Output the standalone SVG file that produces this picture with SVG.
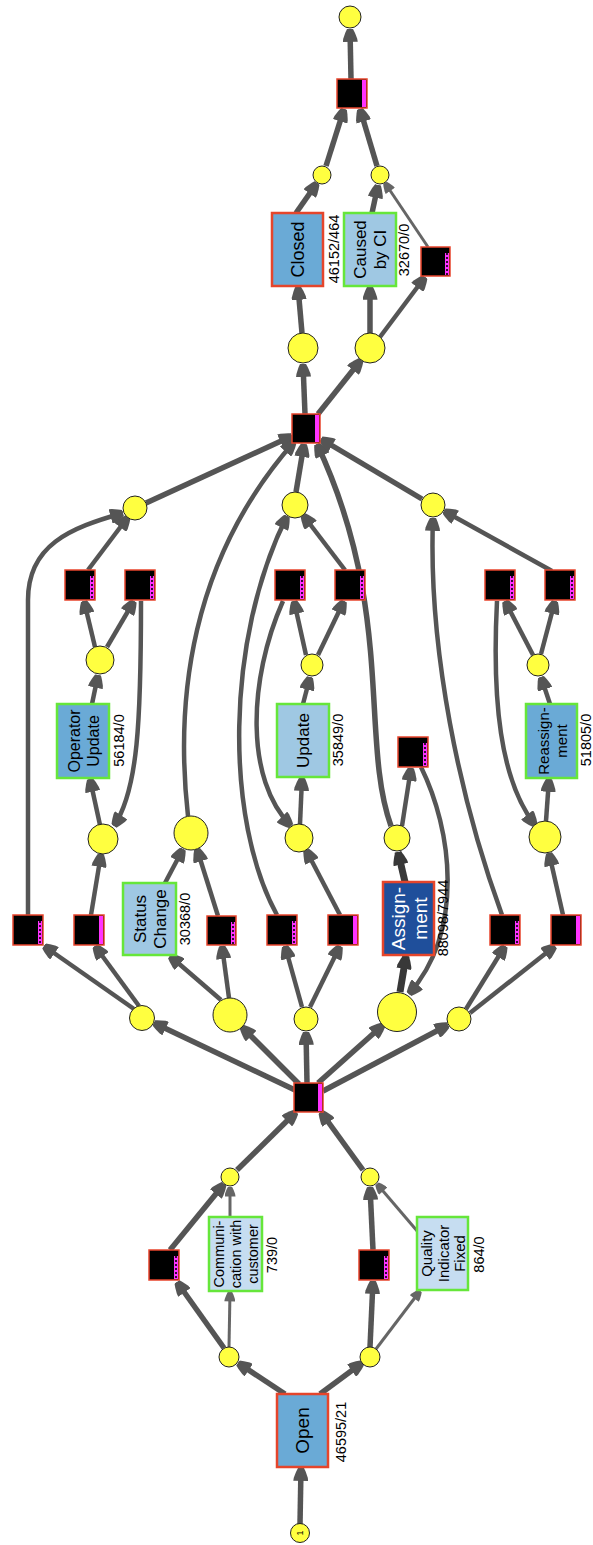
<svg xmlns="http://www.w3.org/2000/svg" width="593" height="1545" viewBox="0 0 593 1545">
<style>
  .e{fill:none;stroke:#555;stroke-width:5.5}
  .m{fill:none;stroke:#555;stroke-width:4.5}
  .t{fill:none;stroke:#666;stroke-width:3}
  .dk{fill:none;stroke:#383838;stroke-width:7}
  .e,.m{marker-end:url(#ah)}
  .t{marker-end:url(#as)}
  .dk{marker-end:url(#ad)}
  .pl{fill:#ffff40;stroke:#222;stroke-width:1}
  .sq{fill:#000;stroke:#e8442c;stroke-width:1.5}
  .mg{fill:#ff33ff}
  .dash{stroke:#000;stroke-width:1.6;stroke-dasharray:2 2}
  .box{stroke-width:2.5}
  .red{stroke:#e5452b}
  .grn{stroke:#66e63a}
  .b1{fill:#6aaad6}
  .b2{fill:#9fc8e3}
  .b3{fill:#c6ddf1}
  .b4{fill:#1f4f9b}
  text{font-family:"Liberation Sans",Arial,sans-serif;text-anchor:middle;dominant-baseline:central}
  .lbl{font-size:16px;fill:#000}
  .cnt{font-size:14.5px;fill:#000}
</style>
<defs>
  <marker id="ah" viewBox="0 0 12 14" refX="12" refY="7" markerWidth="13" markerHeight="15" orient="auto" markerUnits="userSpaceOnUse">
    <path d="M0,0 L3,0.5 Q9,2.5 12,4.2 L12,9.8 Q9,11.5 3,13.5 L0,14 Z" fill="#555"/>
  </marker>
  <marker id="as" viewBox="0 0 12 14" refX="12" refY="7" markerWidth="10" markerHeight="11" orient="auto" markerUnits="userSpaceOnUse">
    <path d="M0,0 L3,0.5 Q9,2.5 12,4.2 L12,9.8 Q9,11.5 3,13.5 L0,14 Z" fill="#666"/>
  </marker>
  <marker id="ad" viewBox="0 0 12 14" refX="12" refY="7" markerWidth="13" markerHeight="15" orient="auto" markerUnits="userSpaceOnUse">
    <path d="M0,0 L3,0.5 Q9,2.5 12,4.2 L12,9.8 Q9,11.5 3,13.5 L0,14 Z" fill="#383838"/>
  </marker>
</defs>

<g id="connectors">
  <!-- start and Open -->
  <path class="e" d="M300,1524 L301,1468"/>
  <path class="e" d="M285,1394 L238,1363"/>
  <path class="e" d="M320,1394 L362,1363"/>
  <!-- left branch -->
  <path class="e" d="M224,1348 L177,1282"/>
  <path class="t" d="M229,1347 L230,1292"/>
  <path class="e" d="M170,1250 L224,1184"/>
  <path class="t" d="M230,1217 L230,1187"/>
  <!-- right branch -->
  <path class="e" d="M370,1347 L373,1281"/>
  <path class="t" d="M376,1349 L420,1291"/>
  <path class="e" d="M373,1250 L370,1187"/>
  <path class="t" d="M418,1232 L377,1184"/>
  <!-- into hub -->
  <path class="e" d="M237,1170 L296,1112"/>
  <path class="e" d="M363,1170 L321,1112"/>
  <!-- hub outputs -->
  <path class="e" d="M295,1090 L154,1023"/>
  <path class="e" d="M299,1084 L242,1027"/>
  <path class="e" d="M307,1083 L306,1032"/>
  <path class="e" d="M318,1083 L383,1025"/>
  <path class="e" d="M323,1091 L448,1025"/>
  <!-- Operator Update branch -->
  <path class="m" d="M134,1009 L44,946"/>
  <path class="m" d="M139,1006 L95,946"/>
  <path class="m" d="M28,915 L28,600 C28,545 70,528 123,513"/>
  <path class="m" d="M91,915 L101,854"/>
  <path class="m" d="M100,825 L90,779"/>
  <path class="m" d="M92,704 L98,675"/>
  <path class="m" d="M95,647 L84,601"/>
  <path class="m" d="M107,647 L134,601"/>
  <path class="m" d="M88,570 L128,517"/>
  <path class="m" d="M141,601 C141,720 138,790 114,826"/>
  <path class="e" d="M146,503 L292,436"/>
  <!-- Status Change branch -->
  <path class="m" d="M221,1000 L170,956"/>
  <path class="m" d="M229,998 L222,946"/>
  <path class="m" d="M165,883 L183,849"/>
  <path class="m" d="M218,916 L197,849"/>
  <path class="m" d="M188,816 C175,700 190,560 294,442"/>
  <!-- Update branch -->
  <path class="m" d="M302,1007 L285,946"/>
  <path class="m" d="M310,1007 L340,946"/>
  <path class="m" d="M340,915 L306,850"/>
  <path class="m" d="M300,824 L302,778"/>
  <path class="m" d="M303,704 L310,677"/>
  <path class="m" d="M306,655 L294,601"/>
  <path class="m" d="M318,655 L344,601"/>
  <path class="m" d="M345,570 L303,515"/>
  <path class="m" d="M283,601 C248,680 245,780 291,826"/>
  <path class="m" d="M277,915 C225,820 225,640 287,516"/>
  <path class="e" d="M296,492 L304,444"/>
  <!-- Assignment branch -->
  <path class="dk" d="M400,992 L406,956"/>
  <path class="dk" d="M405,882 L398,852"/>
  <path class="m" d="M402,826 L411,768"/>
  <path class="m" d="M421,767 C452,830 465,930 409,994"/>
  <path class="e" d="M391,826 C360,740 395,610 317,444"/>
  <!-- Reassignment branch -->
  <path class="m" d="M466,1009 L505,946"/>
  <path class="m" d="M470,1013 L555,946"/>
  <path class="m" d="M563,915 L549,853"/>
  <path class="m" d="M546,821 L549,779"/>
  <path class="m" d="M550,704 L541,677"/>
  <path class="m" d="M533,655 L505,601"/>
  <path class="m" d="M541,654 L555,601"/>
  <path class="m" d="M552,571 L444,511"/>
  <path class="m" d="M497,601 C492,700 500,780 535,825"/>
  <path class="m" d="M502,915 C460,800 428,650 433,518"/>
  <path class="e" d="M422,499 L321,439"/>
  <!-- closing part -->
  <path class="e" d="M305,414 L303,364"/>
  <path class="e" d="M318,414 L361,360"/>
  <path class="e" d="M302,333 L298,287"/>
  <path class="e" d="M370,333 L370,287"/>
  <path class="m" d="M380,337 L425,277"/>
  <path class="e" d="M296,213 L317,183"/>
  <path class="e" d="M372,213 L378,185"/>
  <path class="t" d="M428,247 L385,183"/>
  <path class="e" d="M326,166 L344,109"/>
  <path class="e" d="M377,166 L360,109"/>
  <path class="e" d="M351,79 L350,29"/>
</g>

<!-- places -->
<g id="p_start"><circle class="pl" cx="300" cy="1533" r="9.5"/><text transform="translate(300,1533) rotate(-90)" style="font-size:9px">1</text></g>
<g id="p_l1"><circle class="pl" cx="229" cy="1357" r="10"/></g>
<g id="p_r1"><circle class="pl" cx="370" cy="1357" r="10"/></g>
<g id="p_l2"><circle class="pl" cx="230" cy="1177" r="9"/></g>
<g id="p_r2"><circle class="pl" cx="370" cy="1177" r="9"/></g>
<g id="p_a"><circle class="pl" cx="142" cy="1018" r="12.5"/></g>
<g id="p_b"><circle class="pl" cx="230" cy="1015" r="17"/></g>
<g id="p_c"><circle class="pl" cx="306" cy="1019" r="12"/></g>
<g id="p_d"><circle class="pl" cx="397" cy="1012" r="19.5"/></g>
<g id="p_e"><circle class="pl" cx="459" cy="1019" r="12"/></g>
<g id="p_ou_in"><circle class="pl" cx="103" cy="839" r="15"/></g>
<g id="p_ou_out"><circle class="pl" cx="100" cy="660" r="14"/></g>
<g id="p_end_a"><circle class="pl" cx="135" cy="508" r="12"/></g>
<g id="p_sc"><circle class="pl" cx="191" cy="833" r="17"/></g>
<g id="p_u_in"><circle class="pl" cx="299" cy="838" r="14"/></g>
<g id="p_u_out"><circle class="pl" cx="312" cy="665" r="11"/></g>
<g id="p_end_c"><circle class="pl" cx="295" cy="505" r="13"/></g>
<g id="p_as_out"><circle class="pl" cx="397" cy="838" r="13"/></g>
<g id="p_r_in"><circle class="pl" cx="545" cy="837" r="16"/></g>
<g id="p_r_out"><circle class="pl" cx="538" cy="665" r="11"/></g>
<g id="p_end_e"><circle class="pl" cx="433" cy="505" r="12"/></g>
<g id="p_closed_in"><circle class="pl" cx="303" cy="348" r="15"/></g>
<g id="p_caused_in"><circle class="pl" cx="370" cy="348" r="15"/></g>
<g id="p_closed_out"><circle class="pl" cx="322" cy="175" r="9"/></g>
<g id="p_caused_out"><circle class="pl" cx="380" cy="175" r="9"/></g>
<g id="p_end"><circle class="pl" cx="350" cy="17" r="11"/></g>

<!-- silent transitions: solid strip -->
<g id="t_hub"><rect class="sq" x="294" y="1083" width="29" height="29"/><rect class="mg" x="318" y="1084" width="4" height="27"/></g>
<g id="t_join"><rect class="sq" x="292" y="414" width="28" height="29"/><rect class="mg" x="315" y="415" width="4" height="27"/></g>
<g id="t_end"><rect class="sq" x="337" y="79" width="30" height="29"/><rect class="mg" x="362" y="80" width="4" height="27"/></g>
<g id="t_ou_enter"><rect class="sq" x="74" y="915" width="30" height="30"/><rect class="mg" x="99" y="916" width="4" height="28"/></g>
<g id="t_u_enter"><rect class="sq" x="328" y="915" width="30" height="30"/><rect class="mg" x="353" y="916" width="4" height="28"/></g>
<g id="t_r_enter"><rect class="sq" x="551" y="915" width="30" height="30"/><rect class="mg" x="576" y="916" width="4" height="28"/></g>
<!-- silent transitions: dotted strip -->
<g id="t_skip_comm"><rect class="sq" x="149" y="1250" width="30" height="30"/><rect class="mg" x="174" y="1256" width="4" height="23"/><line class="dash" x1="176" y1="1256" x2="176" y2="1279"/></g>
<g id="t_skip_qual"><rect class="sq" x="359" y="1250" width="30" height="30"/><rect class="mg" x="384" y="1256" width="4" height="23"/><line class="dash" x1="386" y1="1256" x2="386" y2="1279"/></g>
<g id="t_skip_ou"><rect class="sq" x="13" y="915" width="30" height="30"/><rect class="mg" x="38" y="921" width="4" height="23"/><line class="dash" x1="40" y1="921" x2="40" y2="944"/></g>
<g id="t_skip_sc"><rect class="sq" x="207" y="916" width="29" height="29"/><rect class="mg" x="231" y="922" width="4" height="22"/><line class="dash" x1="233" y1="922" x2="233" y2="944"/></g>
<g id="t_skip_u"><rect class="sq" x="267" y="915" width="30" height="30"/><rect class="mg" x="292" y="921" width="4" height="23"/><line class="dash" x1="294" y1="921" x2="294" y2="944"/></g>
<g id="t_skip_r"><rect class="sq" x="490" y="915" width="30" height="30"/><rect class="mg" x="515" y="921" width="4" height="23"/><line class="dash" x1="517" y1="921" x2="517" y2="944"/></g>
<g id="t_as_redo"><rect class="sq" x="398" y="737" width="30" height="30"/><rect class="mg" x="423" y="743" width="4" height="23"/><line class="dash" x1="425" y1="743" x2="425" y2="766"/></g>
<g id="t_ou_exit"><rect class="sq" x="65" y="570" width="30" height="30"/><rect class="mg" x="90" y="576" width="4" height="23"/><line class="dash" x1="92" y1="576" x2="92" y2="599"/></g>
<g id="t_ou_redo"><rect class="sq" x="125" y="570" width="30" height="30"/><rect class="mg" x="150" y="576" width="4" height="23"/><line class="dash" x1="152" y1="576" x2="152" y2="599"/></g>
<g id="t_u_redo"><rect class="sq" x="275" y="570" width="30" height="30"/><rect class="mg" x="300" y="576" width="4" height="23"/><line class="dash" x1="302" y1="576" x2="302" y2="599"/></g>
<g id="t_u_exit"><rect class="sq" x="335" y="570" width="30" height="30"/><rect class="mg" x="360" y="576" width="4" height="23"/><line class="dash" x1="362" y1="576" x2="362" y2="599"/></g>
<g id="t_r_redo"><rect class="sq" x="485" y="570" width="30" height="30"/><rect class="mg" x="510" y="576" width="4" height="23"/><line class="dash" x1="512" y1="576" x2="512" y2="599"/></g>
<g id="t_r_exit"><rect class="sq" x="545" y="570" width="30" height="30"/><rect class="mg" x="570" y="576" width="4" height="23"/><line class="dash" x1="572" y1="576" x2="572" y2="599"/></g>
<g id="t_skip_ci"><rect class="sq" x="421" y="247" width="29" height="29"/><rect class="mg" x="445" y="253" width="4" height="22"/><line class="dash" x1="447" y1="253" x2="447" y2="275"/></g>

<!-- activities -->
<g id="a_open">
  <rect class="box b1 red" x="277" y="1394" width="51" height="73"/>
  <text class="lbl" transform="translate(302.5,1430.5) rotate(-90)" style="font-size:19px">Open</text>
  <text class="cnt" transform="translate(341,1432) rotate(-90)">46595/21</text>
</g>
<g id="a_comm">
  <rect class="box b3 grn" x="209" y="1217" width="53" height="74"/>
  <text class="lbl" transform="translate(235.5,1254) rotate(-90)" style="font-size:14.5px"><tspan x="0" dy="-17">Communi-</tspan><tspan x="0" dy="17">cation with</tspan><tspan x="0" dy="17">customer</tspan></text>
  <text class="cnt" transform="translate(272,1255) rotate(-90)">739/0</text>
</g>
<g id="a_quality">
  <rect class="box b3 grn" x="417" y="1217" width="51" height="73"/>
  <text class="lbl" transform="translate(442.5,1253.5) rotate(-90)" style="font-size:15px"><tspan x="0" dy="-16.5">Quality</tspan><tspan x="0" dy="16.5">Indicator</tspan><tspan x="0" dy="16.5">Fixed</tspan></text>
  <text class="cnt" transform="translate(478.5,1254.5) rotate(-90)">864/0</text>
</g>
<g id="a_status">
  <rect class="box b2 grn" x="123" y="883" width="53" height="72"/>
  <text class="lbl" transform="translate(149.5,919) rotate(-90)" style="font-size:17px"><tspan x="0" dy="-10">Status</tspan><tspan x="0" dy="20">Change</tspan></text>
  <text class="cnt" transform="translate(185,919) rotate(-90)">30368/0</text>
</g>
<g id="a_assignment">
  <rect class="box b4 red" x="383" y="882" width="51" height="73"/>
  <text class="lbl" transform="translate(408.5,918.5) rotate(-90)" style="font-size:19px;fill:#fff"><tspan x="0" dy="-11">Assign-</tspan><tspan x="0" dy="22">ment</tspan></text>
  <text class="cnt" transform="translate(443,918) rotate(-90)">88098/7944</text>
</g>
<g id="a_opupdate">
  <rect class="box b1 grn" x="57" y="704" width="52" height="74"/>
  <text class="lbl" transform="translate(83,741) rotate(-90)" style="font-size:16px"><tspan x="0" dy="-9.5">Operator</tspan><tspan x="0" dy="19">Update</tspan></text>
  <text class="cnt" transform="translate(118.5,740.5) rotate(-90)">56184/0</text>
</g>
<g id="a_update">
  <rect class="box b2 grn" x="277" y="704" width="52" height="73"/>
  <text class="lbl" transform="translate(303,740.5) rotate(-90)" style="font-size:17px">Update</text>
  <text class="cnt" transform="translate(337.5,740) rotate(-90)">35849/0</text>
</g>
<g id="a_reassignment">
  <rect class="box b1 grn" x="526" y="704" width="51" height="74"/>
  <text class="lbl" transform="translate(551.5,741) rotate(-90)" style="font-size:15px"><tspan x="0" dy="-9">Reassign-</tspan><tspan x="0" dy="18">ment</tspan></text>
  <text class="cnt" transform="translate(585.5,740) rotate(-90)">51805/0</text>
</g>
<g id="a_closed">
  <rect class="box b1 red" x="272" y="213" width="51" height="73"/>
  <text class="lbl" transform="translate(297.5,249.5) rotate(-90)" style="font-size:18px">Closed</text>
  <text class="cnt" transform="translate(333.5,249) rotate(-90)">46152/464</text>
</g>
<g id="a_caused">
  <rect class="box b2 grn" x="344" y="213" width="52" height="73"/>
  <text class="lbl" transform="translate(370,249.5) rotate(-90)" style="font-size:17px"><tspan x="0" dy="-10">Caused</tspan><tspan x="0" dy="20">by CI</tspan></text>
  <text class="cnt" transform="translate(404,250) rotate(-90)">32670/0</text>
</g>
</svg>
